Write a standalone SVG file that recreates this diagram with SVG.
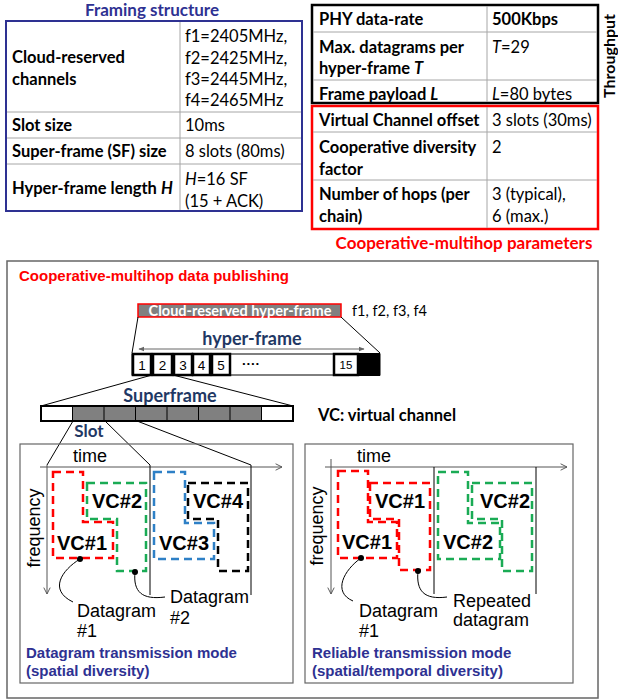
<svg xmlns="http://www.w3.org/2000/svg" width="618" height="700" viewBox="0 0 618 700">
<style>
.cal{font-family:Lato,"Liberation Sans",sans-serif;}
.ari{font-family:"Liberation Sans",Arial,sans-serif;}
.b{font-weight:bold;}
.t15{font-size:16.5px;}
.grid{stroke:#a6a6a6;stroke-width:1;}
.vc{fill:none;stroke-width:2.5;stroke-dasharray:8 5;}
.ax{stroke:#555;stroke-width:1;fill:none;}
.ln{stroke:#000;stroke-width:1;fill:none;}
.hb{fill:#fff;stroke:#000;stroke-width:2.5;}
.lab{font-family:"Liberation Sans",Arial,sans-serif;font-size:18px;fill:#000;}
.vct{font-family:"Liberation Sans",Arial,sans-serif;font-size:20px;font-weight:bold;fill:#000;}
.sub{font-family:"Liberation Sans",Arial,sans-serif;font-size:15px;font-weight:bold;fill:#2e3192;}
.navy{fill:#1f3864;}
</style>
<defs>
<marker id="chev" viewBox="0 0 10 10" refX="9" refY="5" markerWidth="8" markerHeight="8" orient="auto" markerUnits="userSpaceOnUse">
<path d="M1,1 L9,5 L1,9" fill="none" stroke="#555" stroke-width="1.2"/>
</marker>
<marker id="tri" viewBox="0 0 10 10" refX="9" refY="5" markerWidth="6" markerHeight="6" orient="auto-start-reverse" markerUnits="userSpaceOnUse">
<path d="M0,1 L10,5 L0,9 z" fill="#666"/>
</marker>
</defs>

<g id="framing-table">
<text class="cal b" x="152" y="16" text-anchor="middle" font-size="17" fill="#2e3192">Framing structure</text>
<rect x="6" y="21" width="296" height="190" fill="#fff" stroke="#2e3192" stroke-width="2"/>
<line class="grid" x1="180" y1="22" x2="180" y2="210"/>
<line class="grid" x1="7" y1="112" x2="301" y2="112"/>
<line class="grid" x1="7" y1="138" x2="301" y2="138"/>
<line class="grid" x1="7" y1="164" x2="301" y2="164"/>
<g class="cal t15" fill="#000">
<text class="b" x="12" y="63">Cloud-reserved</text>
<text class="b" x="12" y="85">channels</text>
<text x="185" y="42">f1=2405MHz,</text>
<text x="185" y="64">f2=2425MHz,</text>
<text x="185" y="85">f3=2445MHz,</text>
<text x="185" y="106">f4=2465MHz</text>
<text class="b" x="12" y="131">Slot size</text>
<text x="185" y="131">10ms</text>
<text class="b" x="12" y="157">Super-frame (SF) size</text>
<text x="185" y="157">8 slots (80ms)</text>
<text class="b" x="12" y="194">Hyper-frame length <tspan font-style="italic">H</tspan></text>
<text x="185" y="185"><tspan font-style="italic">H</tspan>=16 SF</text>
<text x="185" y="207">(15 + ACK)</text>
</g>
</g>

<g id="throughput-table">
<rect x="312" y="5" width="286" height="98" fill="#fff" stroke="#000" stroke-width="2.5"/>
<line class="grid" x1="487" y1="6" x2="487" y2="102"/>
<line class="grid" x1="313" y1="32" x2="597" y2="32"/>
<line class="grid" x1="313" y1="80" x2="597" y2="80"/>
<g class="cal t15" fill="#000">
<text class="b" x="319" y="25">PHY data-rate</text>
<text class="b" x="492" y="25">500Kbps</text>
<text class="b" x="319" y="53">Max. datagrams per</text>
<text class="b" x="319" y="74">hyper-frame <tspan font-style="italic">T</tspan></text>
<text x="492" y="53"><tspan font-style="italic">T</tspan>=29</text>
<text class="b" x="319" y="100">Frame payload <tspan font-style="italic">L</tspan></text>
<text x="492" y="100"><tspan font-style="italic">L</tspan>=80 bytes</text>
</g>
<text class="cal b" x="0" y="0" font-size="16" text-anchor="middle" transform="translate(614.5,56) rotate(-90)" fill="#000">Throughput</text>
</g>

<g id="cooperative-table">
<rect x="312" y="106" width="286" height="123" fill="#fff" stroke="#ff0000" stroke-width="2.5"/>
<line class="grid" x1="487" y1="107" x2="487" y2="228"/>
<line class="grid" x1="313" y1="132" x2="597" y2="132"/>
<line class="grid" x1="313" y1="180" x2="597" y2="180"/>
<g class="cal t15" fill="#000">
<text class="b" x="319" y="126">Virtual Channel offset</text>
<text x="492" y="126">3 slots (30ms)</text>
<text class="b" x="319" y="153">Cooperative diversity</text>
<text class="b" x="319" y="175">factor</text>
<text x="492" y="153">2</text>
<text class="b" x="319" y="200">Number of hops (per</text>
<text class="b" x="319" y="222">chain)</text>
<text x="492" y="200">3 (typical),</text>
<text x="492" y="222">6 (max.)</text>
</g>
<text class="cal b" x="464" y="249" text-anchor="middle" font-size="17" fill="#ff0000">Cooperative-multihop parameters</text>
</g>

<g id="publishing-panel">
<rect x="7" y="261" width="591" height="437" fill="none" stroke="#666" stroke-width="1.5"/>
<text class="ari b" x="19" y="281" font-size="15" fill="#ff0000">Cooperative-multihop data publishing</text>
</g>

<g id="cloud-hyperframe">
<rect x="138" y="304" width="203" height="13" fill="#808080" stroke="#ff0000" stroke-width="1.5"/>
<text class="cal b" x="240" y="315.5" text-anchor="middle" font-size="14.5" fill="#fff">Cloud-reserved hyper-frame</text>
<text class="cal" x="352" y="316" font-size="14.5" fill="#000">f1, f2, f3, f4</text>
</g>

<g id="hyper-frame">
<text class="cal b navy" x="252" y="345" text-anchor="middle" font-size="18">hyper-frame</text>
<line x1="139" y1="349" x2="364" y2="349" stroke="#666" stroke-width="1" marker-start="url(#tri)" marker-end="url(#tri)"/>
<rect x="132" y="354" width="248" height="21" fill="#fff" stroke="#000" stroke-width="1"/>
<rect class="hb" x="133" y="354" width="18" height="21"/>
<rect class="hb" x="153" y="354" width="19" height="21"/>
<rect class="hb" x="174" y="354" width="18" height="21"/>
<rect class="hb" x="193" y="354" width="17" height="21"/>
<rect class="hb" x="212" y="354" width="18" height="21"/>
<rect class="hb" x="334" y="354" width="24" height="21"/>
<rect x="358" y="353" width="22" height="23" fill="#000"/>
<g class="ari" font-size="13.5" fill="#000" text-anchor="middle">
<text x="142" y="369.5">1</text>
<text x="162.5" y="369.5">2</text>
<text x="183" y="369.5">3</text>
<text x="201.5" y="369.5">4</text>
<text x="221" y="369.5">5</text>
<text x="346" y="369" font-size="11.5">15</text>
<text x="251" y="368" font-weight="bold">····</text>
</g>
</g>

<g id="superframe">
<text class="cal b navy" x="170" y="402" text-anchor="middle" font-size="18">Superframe</text>
<rect x="41" y="406" width="252" height="15" fill="#fff"/>
<rect x="72.5" y="406" width="189" height="15" fill="#808080"/>
<g stroke="#000" stroke-width="1">
<line x1="72.5" y1="406" x2="72.5" y2="421"/>
<line x1="104" y1="406" x2="104" y2="421"/>
<line x1="135.5" y1="406" x2="135.5" y2="421"/>
<line x1="167" y1="406" x2="167" y2="421"/>
<line x1="198.5" y1="406" x2="198.5" y2="421"/>
<line x1="230" y1="406" x2="230" y2="421"/>
<line x1="261.5" y1="406" x2="261.5" y2="421"/>
</g>
<rect x="41" y="406" width="252" height="15" fill="none" stroke="#000" stroke-width="2"/>
<text class="cal b" x="318" y="421" font-size="16.5" fill="#000">VC: virtual channel</text>
<text class="cal b navy" x="89" y="437" text-anchor="middle" font-size="17">Slot</text>
</g>

<g id="connectors">
<line class="ln" x1="138" y1="317" x2="132" y2="353"/>
<line class="ln" x1="341" y1="317" x2="380" y2="353"/>
<line class="ln" x1="152" y1="375" x2="41" y2="406"/>
<line class="ln" x1="173" y1="375" x2="293" y2="406"/>
<line class="ln" x1="73" y1="421" x2="47" y2="465"/>
<line class="ln" x1="105" y1="421" x2="150" y2="465"/>
<line class="ln" x1="137" y1="421" x2="251" y2="465"/>
</g>

<g id="datagram-mode">
<rect x="20" y="444" width="273" height="239" fill="none" stroke="#666" stroke-width="1.2"/>
<line class="ax" x1="40" y1="467" x2="282" y2="467" marker-end="url(#chev)"/>
<line class="ax" x1="47" y1="465" x2="47" y2="594" marker-end="url(#chev)"/>
<line class="ln" x1="150" y1="465" x2="150" y2="595"/>
<line class="ln" x1="251" y1="465" x2="251" y2="595"/>
<text class="lab" x="90" y="462" text-anchor="middle">time</text>
<text class="lab" x="0" y="0" text-anchor="middle" transform="translate(40,528) rotate(-90)">frequency</text>
<polygon class="vc" stroke="#ff0000" points="53,472 83,472 83,522 113,522 113,558 53,558"/>
<polygon class="vc" stroke="#1aab55" points="87,483 146,483 146,571 117,571 117,519 87,519"/>
<polygon class="vc" stroke="#2e80c6" points="154,472 185,472 185,523 214,523 214,559 154,559"/>
<polygon class="vc" stroke="#000" points="188,483 248,483 248,571 218,571 218,519 188,519"/>
<text class="vct" x="57" y="550">VC#1</text>
<text class="vct" x="92" y="508">VC#2</text>
<text class="vct" x="159" y="550">VC#3</text>
<text class="vct" x="193" y="508">VC#4</text>
<circle cx="80" cy="559" r="3" fill="#000"/>
<circle cx="135" cy="572" r="3" fill="#000"/>
<path class="ln" stroke-width="1.3" d="M80,559 C62,570 48,590 73,602"/>
<path class="ln" stroke-width="1.3" d="M135,572 C133,592 142,600 165,597"/>
<text class="lab" x="77" y="617">Datagram</text>
<text class="lab" x="77" y="637">#1</text>
<text class="lab" x="170" y="603">Datagram</text>
<text class="lab" x="170" y="624">#2</text>
<text class="sub" x="26" y="658">Datagram transmission mode</text>
<text class="sub" x="26" y="676">(spatial diversity)</text>
</g>

<g id="reliable-mode">
<rect x="305" y="444" width="268" height="239" fill="none" stroke="#666" stroke-width="1.2"/>
<line class="ax" x1="325" y1="467" x2="567" y2="467" marker-end="url(#chev)"/>
<line class="ax" x1="331" y1="459" x2="331" y2="594" marker-end="url(#chev)"/>
<line class="ln" x1="434" y1="467" x2="434" y2="594"/>
<line class="ln" x1="536" y1="467" x2="536" y2="594"/>
<text class="lab" x="374" y="462" text-anchor="middle">time</text>
<text class="lab" x="0" y="0" text-anchor="middle" transform="translate(323,526) rotate(-90)">frequency</text>
<polygon class="vc" stroke="#ff0000" points="338,471 368,471 368,522 397,522 397,558 338,558"/>
<polygon class="vc" stroke="#ff0000" points="370,483 430,483 430,570 399,570 399,519 370,519"/>
<polygon class="vc" stroke="#1aab55" points="438,472 468,472 468,523 500,523 500,559 438,559"/>
<polygon class="vc" stroke="#1aab55" points="472,483 532,483 532,571 502,571 502,519 472,519"/>
<text class="vct" x="375" y="508">VC#1</text>
<text class="vct" x="342" y="549">VC#1</text>
<text class="vct" x="443" y="549">VC#2</text>
<text class="vct" x="480" y="508">VC#2</text>
<circle cx="361" cy="558" r="3" fill="#000"/>
<circle cx="418" cy="571" r="3" fill="#000"/>
<path class="ln" stroke-width="1.3" d="M361,558 C344,570 332,592 353,601"/>
<path class="ln" stroke-width="1.3" d="M418,571 C416,591 424,600 447,597"/>
<text class="lab" x="359" y="617">Datagram</text>
<text class="lab" x="359" y="637">#1</text>
<text class="lab" x="453" y="607">Repeated</text>
<text class="lab" x="453" y="626">datagram</text>
<text class="sub" x="312" y="658">Reliable transmission mode</text>
<text class="sub" x="312" y="676">(spatial/temporal diversity)</text>
</g>
</svg>
